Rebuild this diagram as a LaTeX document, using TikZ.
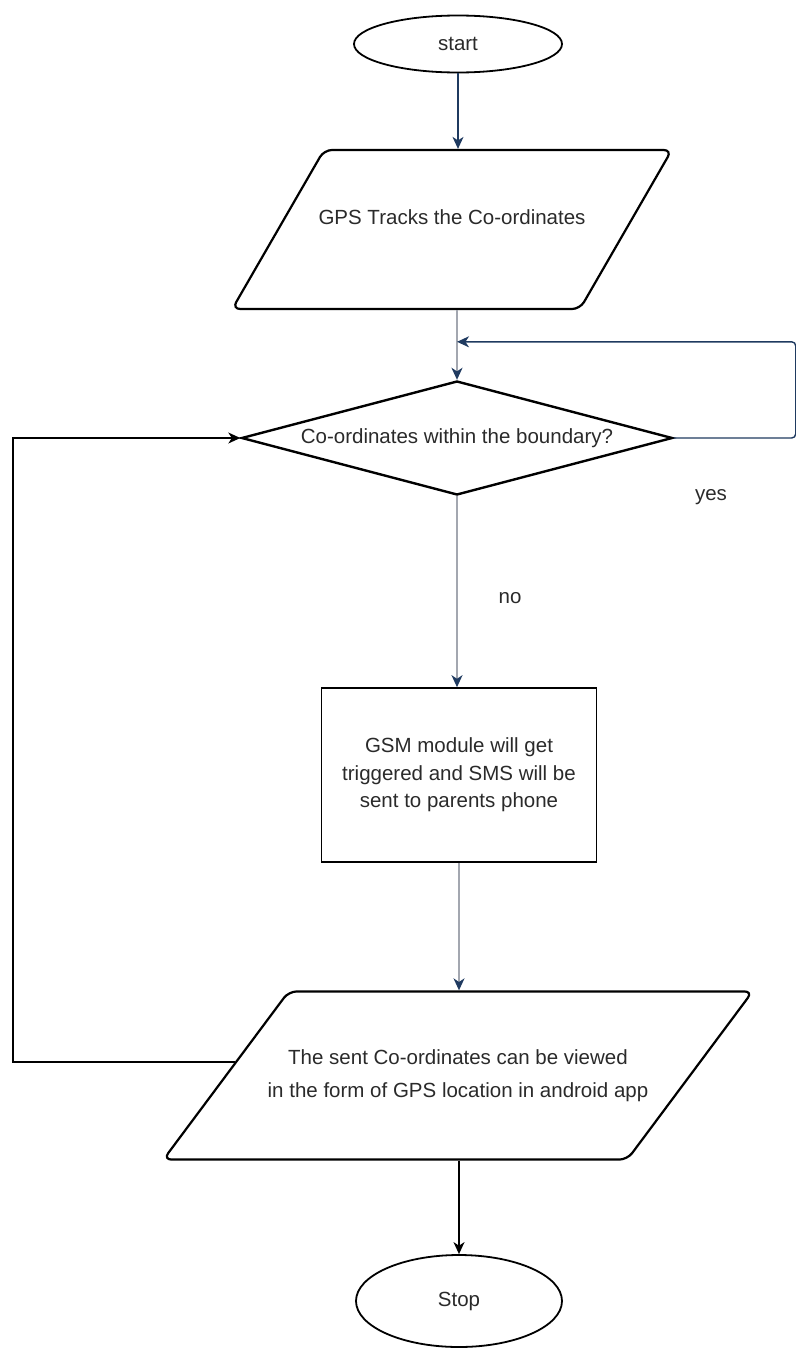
\documentclass[tikz,border=0pt]{standalone}
\usepackage{fontspec}
\setmainfont{Liberation Sans}
\usetikzlibrary{shapes.geometric,arrows.meta,calc}
\definecolor{navy}{HTML}{1F3A60}
\definecolor{lgray}{HTML}{A3A7B0}
\definecolor{ink}{HTML}{2A2A2A}

\begin{document}
\begin{tikzpicture}[x=0.5pt,y=-0.5pt,
    every node/.style={font=\fontsize{10.25}{13.75}\selectfont, text=ink},
    term/.style={draw, ellipse, line width=0.9pt, inner sep=0pt},
    io/.style={draw, trapezium, rounded corners=4pt, line width=1.1pt, align=center},
    test/.style={draw, diamond, aspect=3.8, inner sep=0pt, line width=1.2pt},
    proc/.style={draw, rectangle, line width=0.8pt, align=center},
    link/.style={line width=0.7pt, -{Stealth[length=6pt, width=5.5pt, inset=1.8pt]}},
    navylink/.style={link, draw=navy, -{Stealth[length=6pt, width=5.5pt, inset=1.8pt, color=navy]}},
    greylink/.style={line width=0.8pt, draw=lgray, -{Stealth[length=6pt, width=5.5pt, inset=1.8pt, color=navy]}}
]
    \useasboundingbox (0,0) rectangle (796,1349);

    % flow chart boxes
    \node[term, minimum width=104pt, minimum height=28.5pt] (start) at (458,44) {start};
    \node[io, trapezium left angle=60, trapezium right angle=120,
        text height=7.5pt, text depth=12.2pt, inner ysep=29.9pt, inner xsep=-2.75pt] (gps) at (452,229.5)
        {GPS Tracks the Co-ordinates};
    \node[test, minimum width=215.5pt, minimum height=57pt] (check) at (457,438) {Co-ordinates within the boundary?};
    \node[proc, minimum width=137.5pt, minimum height=87pt] (gsm) at (459,775)
        {GSM module will get\\triggered and SMS will be\\sent to parents phone};
    \node[io, trapezium left angle=53.3, trapezium right angle=126.7,
        inner ysep=29pt, inner xsep=-10.5pt, font=\fontsize{10.25}{16.5}\selectfont] (view) at (458,1075.5)
        {The sent Co-ordinates can be viewed\\in the form of GPS location in android app};
    \node[term, minimum width=103pt, minimum height=46pt] (stop) at (459,1301) {Stop};

    \node (yes) at (711,497) {yes};
    \node (no) at (510,598) {no};

    \coordinate (join) at ($(check.north)+(0,-38)$);
    \coordinate (back) at ($(view.bottom left corner)!0.58!(view.top left corner)$);
    \coordinate (edge) at (13,0);

    % connectors
    \draw[navylink] (start.south) -- (start.south |- gps.north);
    \draw[greylink] (check.north |- gps.south) -- (check.north);
    \draw[navylink, rounded corners=2pt] (check.east) -- ++(122,0) |- (join);
    \draw[greylink] (check.south) -- (check.south |- gsm.north);
    \draw[greylink] (gsm.south) -- (gsm.south |- view.north);
    \draw[link] (back) -- (back -| edge) |- (check.west);
    \draw[link] (stop.north |- view.south) -- (stop.north);

\end{tikzpicture}
\end{document}
